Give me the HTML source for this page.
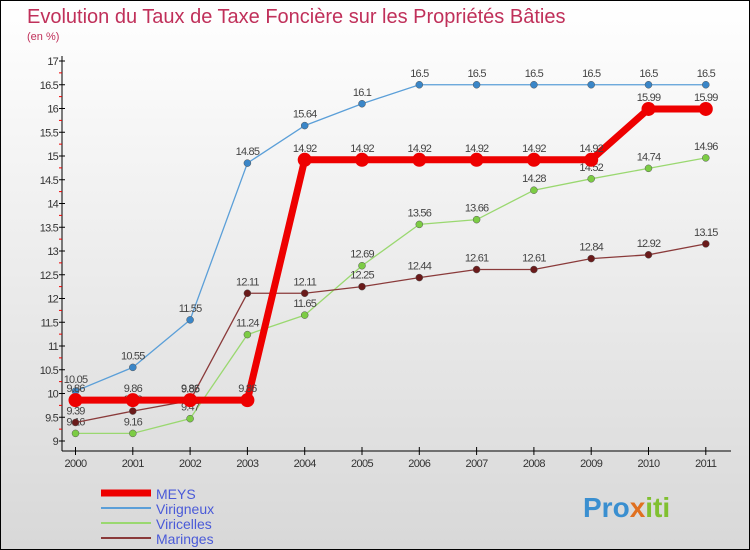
<!DOCTYPE html>
<html><head><meta charset="utf-8"><style>
body{margin:0}
#c{width:748px;height:548px;border:1px solid #000;background:linear-gradient(#fff,#d8d8d8);position:relative;font-family:"Liberation Sans","DejaVu Sans",sans-serif;overflow:hidden}
</style></head><body>
<div id="c">
<svg id="s" width="748" height="548">
<text x="26" y="22" font-size="20" fill="#c0305a">Evolution du Taux de Taxe Foncière sur les Propriétés Bâties</text>
<text x="26" y="39" font-size="11" fill="#c0305a">(en %)</text>
<text x="582" y="516" font-size="28" font-weight="bold" fill="#3a8fd0">Pro<tspan fill="#e07020">x</tspan><tspan fill="#80c030">iti</tspan></text>
</svg>
</div>
<script>
const years=[2000,2001,2002,2003,2004,2005,2006,2007,2008,2009,2010,2011];
const meys=[9.86,9.86,9.86,9.86,14.92,14.92,14.92,14.92,14.92,14.92,15.99,15.99];
const virigneux=[10.05,10.55,11.55,14.85,15.64,16.1,16.5,16.5,16.5,16.5,16.5,16.5];
const viricelles=[9.16,9.16,9.47,11.24,11.65,12.69,13.56,13.66,14.28,14.52,14.74,14.96];
const maringes=[9.39,9.63,9.85,12.11,12.11,12.25,12.44,12.61,12.61,12.84,12.92,13.15];
const yTicks=[9,9.5,10,10.5,11,11.5,12,12.5,13,13.5,14,14.5,15,15.5,16,16.5,17];
const NS="http://www.w3.org/2000/svg",s=document.getElementById('s');
const X=i=>74.5+i*57.3, Y=v=>440-(v-9)*47.5;
function el(t,a,p){const e=document.createElementNS(NS,t);for(const k in a)e.setAttribute(k,a[k]);(p||s).appendChild(e);return e;}
let e=el('line',{x1:61,y1:55,x2:61,y2:450,stroke:'#000'});

e=el('line',{x1:61,y1:450,x2:730,y2:450,stroke:'#000'});

yTicks.forEach((v,i)=>{
 el('line',{x1:58,y1:Y(v),x2:64,y2:Y(v),stroke:'#000'});
 if(i<yTicks.length-1)el('line',{x1:58,y1:Y(v+0.25),x2:61,y2:Y(v+0.25),stroke:'#e00'});
 const t=el('text',{x:57,y:Y(v)+4,'font-size':11,'text-anchor':'end',fill:'#333','letter-spacing':'-0.8'});
 t.textContent=v;
 
});
years.forEach((y,i)=>{
 el('line',{x1:X(i),y1:446,x2:X(i),y2:454,stroke:'#000'});
 const t=el('text',{x:X(i),y:466,'font-size':11,'text-anchor':'middle',fill:'#333','letter-spacing':'-0.6'});
 t.textContent=y;
 
});
const series=[
 {n:'Virigneux',d:virigneux,c:'#5b9fd8',f:'#3a86c8',w:1.3,r:3.5},
 {n:'Viricelles',d:viricelles,c:'#9ad870',f:'#7ccc44',w:1.3,r:3.5},
 {n:'Maringes',d:maringes,c:'#8a3a3a',f:'#6a1a1a',w:1.3,r:3.5},
 {n:'MEYS',d:meys,c:'#ee0000',f:'#ee0000',w:7,r:7}];
series.forEach(se=>{
 const g=el('g',{});
 
 el('polyline',{points:se.d.map((v,i)=>X(i)+','+Y(v)).join(' '),fill:'none',stroke:se.c,'stroke-width':se.w},g);
 se.d.forEach((v,i)=>{
  const p=el('circle',{cx:X(i),cy:Y(v),r:se.r,fill:se.f,stroke:se.w>2?'none':'#555','stroke-width':0.5},g);
  
  const t=el('text',{x:X(i),y:Y(v)-8,'font-size':11,'text-anchor':'middle',fill:'#444','letter-spacing':'-0.8'},g);
  t.textContent=v;
 });
});
const leg=[['MEYS','#ee0000',7],['Virigneux','#5b9fd8',2],['Viricelles','#9ad870',2],['Maringes','#8a3a3a',2]];
leg.forEach((l,i)=>{
 const g=el('g',{});
 
 const yy=492+i*15;
 el('line',{x1:100,y1:yy,x2:150,y2:yy,stroke:l[1],'stroke-width':l[2]},g);
 const t=el('text',{x:155,y:yy+6,'font-size':14,fill:'#4a5ad8'},g);t.textContent=l[0];
});
</script>
</body></html>
